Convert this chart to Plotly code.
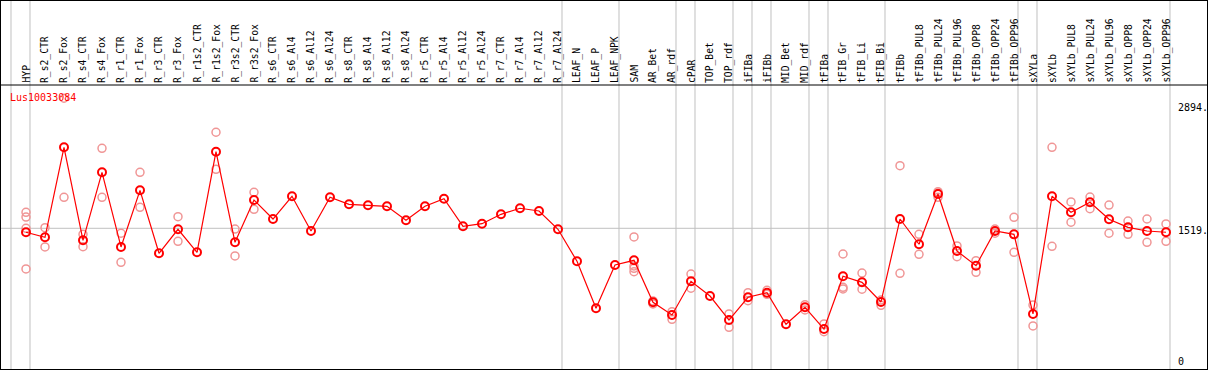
import plotly.graph_objects as go

categories = ["HYP", "R_s2_CTR", "R_s2_Fox", "R_s4_CTR", "R_s4_Fox", "R_r1_CTR", "R_r1_Fox",
              "R_r3_CTR", "R_r3_Fox", "R_r1s2_CTR", "R_r1s2_Fox", "R_r3s2_CTR", "R_r3s2_Fox",
              "R_s6_CTR", "R_s6_Al4", "R_s6_Al12", "R_s6_Al24", "R_s8_CTR", "R_s8_Al4",
              "R_s8_Al12", "R_s8_Al24", "R_r5_CTR", "R_r5_Al4", "R_r5_Al12", "R_r5_Al24",
              "R_r7_CTR", "R_r7_Al4", "R_r7_Al12", "R_r7_Al24", "LEAF_N", "LEAF_P", "LEAF_NPK",
              "SAM", "AR_Bet", "AR_rdf", "cPAR", "TOP_Bet", "TOP_rdf", "iFIBa", "iFIBb",
              "MID_Bet", "MID_rdf", "tFIBa", "tFIB_Gr", "tFIB_Li", "tFIB_Bi", "tFIBb",
              "tFIBb_PUL8", "tFIBb_PUL24", "tFIBb_PUL96", "tFIBb_OPP8", "tFIBb_OPP24",
              "tFIBb_OPP96", "sXYLa", "sXYLb", "sXYLb_PUL8", "sXYLb_PUL24", "sXYLb_PUL96",
              "sXYLb_OPP8", "sXYLb_OPP24", "sXYLb_OPP96"]

mean_values = [1475, 1419, 2417, 1386, 2140, 1312, 1940, 1242, 1508, 1253, 2368, 1364, 1833,
               1622, 1874, 1489, 1863, 1785, 1774, 1763, 1608, 1763, 1847, 1541, 1570,
               1674, 1741, 1711, 1508, 1153, 632, 1112,
               1164, 698, 558, 931, 768, 502, 754, 805,
               455, 643, 402, 987, 920, 702, 1622,
               1342, 1899, 1267, 1104, 1489,
               1452, 569, 1874, 1696, 1807, 1619,
               1530, 1489, 1475]

replicates = [[1696, 1644, 1519, 1068], [1526, 1312], [2961, 1863], [1452, 1315], [2406, 1863],
              [1464, 1142], [2140, 1752], [], [1648, 1375], [], [2584, 2173], [1511, 1212],
              [1918, 1730],
              [], [], [], [], [], [], [], [], [], [], [], [], [], [], [], [], [], [], [],
              [1423, 1101, 1075, 1038], [713, 680], [594, 510], [1012, 854], [], [569, 421],
              [805, 716], [831, 787], [], [672, 613], [458, 372], [1234, 865, 846],
              [1023, 843], [665, 724], [2213, 1020], [1452, 1231], [1925, 1910, 1862],
              [1323, 1204], [1160, 1031], [1511, 1464], [1641, 1253], [668, 436],
              [2417, 1319], [1811, 1586], [1866, 1736], [1777, 1464], [1600, 1452],
              [1622, 1364], [1567, 1375]]

# group separators drawn just after these category indices
separator_after = [-1, 0, 28, 31, 34, 35, 37, 38, 39, 41, 42, 45, 52, 53, 60]

gene = "Lus10033084"
y_max_label = 2894
y_mid_label = 1519

W, H = 1209, 370
ML, MR, MT, MB = 1, 2, 1, 1
plot_h = H - MT - MB
plot_w = W - ML - MR

def paper_y(px):
    return (H - MB - px) / plot_h

def paper_x(px):
    return (px - ML) / plot_w

idx = list(range(len(categories)))
rx, ry = [], []
for i, reps in enumerate(replicates):
    for v in reps:
        rx.append(i)
        ry.append(v)

fig = go.Figure()
fig.add_trace(go.Scatter(
    x=rx, y=ry, mode="markers", hoverinfo="skip",
    marker=dict(symbol="circle-open", size=8, color="rgb(240,150,150)",
                line=dict(width=1.5, color="rgb(240,150,150)"))))
fig.add_trace(go.Scatter(
    x=idx, y=mean_values, mode="lines+markers",
    line=dict(color="#ff0000", width=1.2),
    marker=dict(symbol="circle-open", size=8, color="#ff0000",
                line=dict(width=2, color="#ff0000"))))

shapes = []
for s in separator_after:
    shapes.append(dict(type="line", xref="x", yref="paper", x0=s + 0.21, x1=s + 0.21,
                       y0=0, y1=1, line=dict(color="#c0c0c0", width=1), layer="below"))
shapes.append(dict(type="line", xref="x", yref="y", x0=-1.4, x1=separator_after[-1] + 0.21,
                   y0=y_mid_label, y1=y_mid_label, line=dict(color="#c0c0c0", width=1),
                   layer="below"))
shapes.append(dict(type="line", xref="paper", yref="paper", x0=0, x1=1,
                   y0=paper_y(85), y1=paper_y(85), line=dict(color="black", width=1)))

annotations = []
for i, c in enumerate(categories):
    annotations.append(dict(x=i, y=paper_y(84), xref="x", yref="paper", text=c,
                            textangle=-90, showarrow=False, xanchor="center",
                            yanchor="bottom", borderpad=0, xshift=0.5,
                            font=dict(family="DejaVu Sans Mono", size=9.7, color="black")))
annotations.append(dict(x=paper_x(8), y=paper_y(97.7), xref="paper", yref="paper", text=gene,
                        showarrow=False, xanchor="left", yanchor="middle",
                        font=dict(family="DejaVu Sans Mono", size=10, color="#ff0000")))
for val, txt, shift in [(y_max_label, "2894.", -2.7), (y_mid_label, "1519.", -2.7), (0, "0", 3.3)]:
    annotations.append(dict(x=paper_x(1175.5), y=val, xref="paper", yref="y", text=txt,
                            showarrow=False, xanchor="left", yanchor="middle", yshift=shift,
                            font=dict(family="DejaVu Sans Mono", size=10, color="black")))

fig.update_layout(
    width=W, height=H, margin=dict(l=ML, r=MR, t=MT, b=MB),
    paper_bgcolor="white", plot_bgcolor="white", showlegend=False,
    shapes=shapes, annotations=annotations,
    xaxis=dict(range=[(ML - 26) / 19, (W - MR - 26) / 19], showgrid=False, zeroline=False,
               showticklabels=False, ticks="", showline=True, mirror=True,
               linecolor="black", linewidth=1),
    yaxis=dict(range=[-41.3, 4039.5], showgrid=False, zeroline=False,
               showticklabels=False, ticks="", showline=True, mirror=True,
               linecolor="black", linewidth=1),
)
fig.write_html("out.html", config={"displayModeBar": False},
               post_script="document.body.style.margin='0px';document.body.style.padding='0px';")
